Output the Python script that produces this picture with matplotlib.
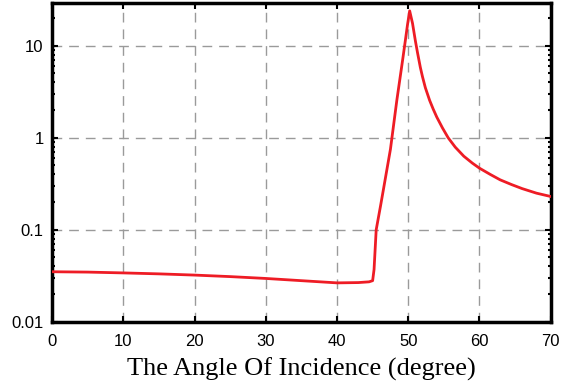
import numpy as np
import matplotlib
matplotlib.use("Agg")
from matplotlib import pyplot as plt
from matplotlib.ticker import FixedLocator, FuncFormatter, LogLocator, NullFormatter

# angle of incidence (degree) and the plotted quantity (log scale)
angle = [0, 5, 10, 15, 20, 25, 30, 35, 40, 43, 44.5, 45.0, 45.2, 45.5, 46.1, 46.5,
         47.0, 47.5, 48.4, 49.2, 49.6, 49.9, 50.2, 50.6, 51.0, 51.3, 51.7, 52.0, 52.4,
         53.0, 53.5, 54.0, 54.8, 55.6, 56.6, 57.8, 59, 60, 61.5, 62.9, 64.5, 66, 68, 70]
value = [0.035, 0.0347, 0.0340, 0.0332, 0.0322, 0.0310, 0.0296, 0.0280, 0.0265,
         0.0267, 0.0272, 0.0280, 0.037, 0.10, 0.18, 0.27, 0.45, 0.75, 2.56, 6.9,
         11.5, 17, 23.9, 17.5, 11.3, 8.4, 5.8, 4.6, 3.5, 2.55, 2.05, 1.68, 1.28, 1.0,
         0.79, 0.63, 0.53, 0.467, 0.40, 0.349, 0.31, 0.28, 0.25, 0.23]

xticks = [0, 10, 20, 30, 40, 50, 60, 70]
yticks = [0.01, 0.1, 1, 10]

fig = plt.figure(figsize=(5.66, 3.92), dpi=100)
ax = fig.add_axes([0.092, 0.179, 0.881, 0.813])

ax.plot(angle, value, color='#ee1c25', lw=2, zorder=3)

ax.set_yscale('log')
ax.set_xlim(0, 70)
ax.set_ylim(0.01, 29)

ax.xaxis.set_major_locator(FixedLocator(xticks))
ax.yaxis.set_major_locator(FixedLocator(yticks))
ax.yaxis.set_minor_locator(LogLocator(base=10, subs=np.arange(2, 10)))
ax.yaxis.set_minor_formatter(NullFormatter())
ax.yaxis.set_major_formatter(FuncFormatter(lambda v, p: '%g' % v))

ax.grid(True, which='major', color='#9a9a9a', linestyle=(0, (7, 5)), lw=1)
ax.tick_params(which='both', direction='in', top=True, right=True, width=1.5, color='black')
ax.tick_params(which='major', length=4, labelsize=12)
ax.tick_params(axis='x', which='major', pad=9)
ax.tick_params(axis='y', which='major', pad=6)
ax.tick_params(which='minor', length=2.5)
for lab in ax.get_xticklabels() + ax.get_yticklabels():
    lab.set_family(['Liberation Sans', 'DejaVu Sans'])

for s in ax.spines.values():
    s.set_linewidth(2.5)

ax.set_xlabel('The Angle Of Incidence (degree)', family=['Liberation Serif', 'DejaVu Serif'],
              fontsize=19, labelpad=6)

fig.savefig('out.png', dpi=100)
